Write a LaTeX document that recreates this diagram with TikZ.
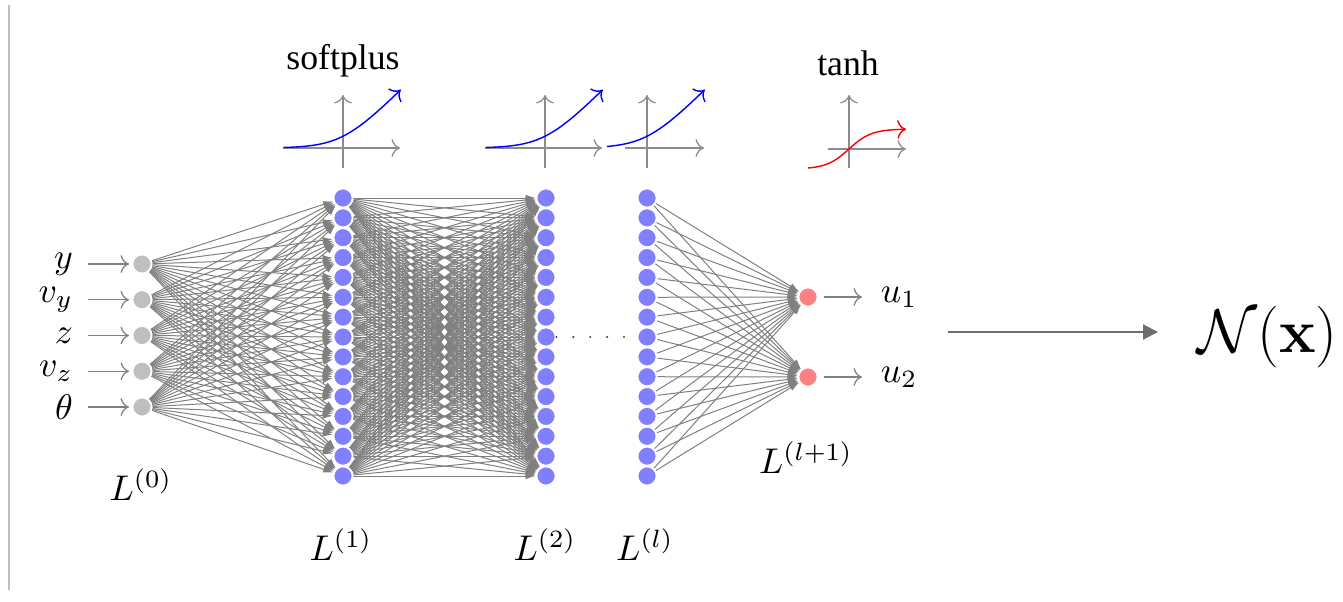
\documentclass[tikz,border=0pt]{standalone}
\usepackage[no-math]{fontspec}
\setmainfont{Liberation Serif}
\usetikzlibrary{arrows.meta}
\pgfdeclarelayer{bg}
\pgfsetlayers{bg,main}
\begin{document}
\begin{tikzpicture}[x=0.28pt,y=-0.28pt,
  neuron/.style={circle,minimum size=5.35pt,inner sep=0pt,draw=white,line width=0.5pt},
  inneuron/.style={neuron,fill=black!25},
  hidneuron/.style={neuron,fill=blue!50},
  outneuron/.style={neuron,fill=red!50},
  wire/.style={draw=gray,line width=0.28pt,-{Latex[length=2.8pt,width=1.9pt]}},
  iowire/.style={draw=gray,line width=0.35pt,->},
  axis/.style={draw=gray!90,line width=0.35pt,->},
  actcurve/.style={line width=0.4pt,->},
  lbl/.style={anchor=base,inner sep=0pt},
  dotline/.style={draw=black!70,line width=0.65pt,line cap=round,dash pattern=on 0pt off 4.73pt,shorten >=2.5pt},
  bigarrow/.style={draw=black!57,line width=0.57pt,-{Triangle[length=4.2pt,width=4.2pt]}},
]
\useasboundingbox (0,0) rectangle (1343,601);
% left border line
\draw[black!25,line width=0.3pt] (9,5) -- (9,590);

% input layer
\foreach \lab [count=\i from 0] in {y,v_y,z,v_z,\theta} {
  \node[inneuron] (in\i) at (142,{264+35.75*\i}) {};
  \node[anchor=east,inner xsep=4.0pt,inner ysep=0pt] (lin\i) at (88,{264+35.75*\i}) {$\lab$};
  \draw[iowire,shorten >=0.7pt] (lin\i.east) -- (in\i.west);
}
% hidden layers
\foreach \i in {0,...,14} {
  \node[hidneuron] (hA\i) at (343,{198+19.857*\i}) {};
  \node[hidneuron] (hB\i) at (546,{198+19.857*\i}) {};
  \node[hidneuron] (hL\i) at (647,{198+19.857*\i}) {};
}
% output layer
\node[outneuron] (out1) at (808,297) {};
\node[outneuron] (out2) at (808,377) {};
\node[anchor=west,inner xsep=5.1pt,inner ysep=0pt] (lu1) at (862,297) {$u_1$};
\node[anchor=west,inner xsep=5.1pt,inner ysep=0pt] (lu2) at (862,377) {$u_2$};
\draw[iowire,shorten <=1.5pt] (out1.east) -- (lu1.west);
\draw[iowire,shorten <=1.5pt] (out2.east) -- (lu2.west);

% connections
\begin{pgfonlayer}{bg}
\foreach \i in {0,...,4} \foreach \j in {0,...,14} \draw[wire] (in\i) -- (hA\j);
\foreach \i in {0,...,14} \foreach \j in {0,...,14} \draw[wire] (hA\i) -- (hB\j);
\foreach \i in {0,...,14} \foreach \j in {1,2} \draw[wire] (hL\i) -- (out\j);
\end{pgfonlayer}
\draw[dotline] (hB7.east) -- (hL7.west);

% layer labels
\node[lbl] (L0) at (141,500) {$L^{(0)}$};
\node[lbl] (L1) at (341,560) {$L^{(1)}$};
\node[lbl] (L2) at (545,560) {$L^{(2)}$};
\node[lbl] (Ll) at (645,560) {$L^{(l)}$};
\node[lbl] (Llp) at (806,473) {$L^{(l+1)}$};

% activation labels
\node[lbl] (sp) at (343,70) {softplus};
\node[lbl] (th) at (848,76) {tanh};

% activation plots
\draw[axis] (283,148) -- (400,148);
\draw[axis] (343,168) -- (343,95);
\draw[actcurve,blue] plot[domain=-3.5:3.4,samples=50,smooth] ({343+17*\x},{148-17*ln(1+exp(\x))});

\draw[axis] (485,148) -- (602,148);
\draw[axis] (545,168) -- (545,95);
\draw[actcurve,blue] plot[domain=-3.5:3.4,samples=50,smooth] ({545+17*\x},{148-17*ln(1+exp(\x))});

\draw[axis] (625,148) -- (704,148);
\draw[axis] (647,168) -- (647,95);
\draw[actcurve,blue] plot[domain=-2.35:3.4,samples=50,smooth] ({647+17*\x},{148-17*ln(1+exp(\x))});

\draw[axis] (828,149) -- (906,149);
\draw[axis] (849,168) -- (849,95);
\draw[actcurve,red] plot[domain=-1.83:2.55,samples=50,smooth] ({849+22.4*\x},{149-20*tanh(\x)});

% big arrow and N(x)
\coordinate (bs) at (948,332);
\coordinate (be) at (1158,332);
\draw[bigarrow] (bs) -- (be);
\node[anchor=base west,inner sep=0pt] (nx) at (1197,352) {\fontsize{18.1}{22}\selectfont $\mathcal{N}(\mathbf{x})$};
\end{tikzpicture}
\end{document}
